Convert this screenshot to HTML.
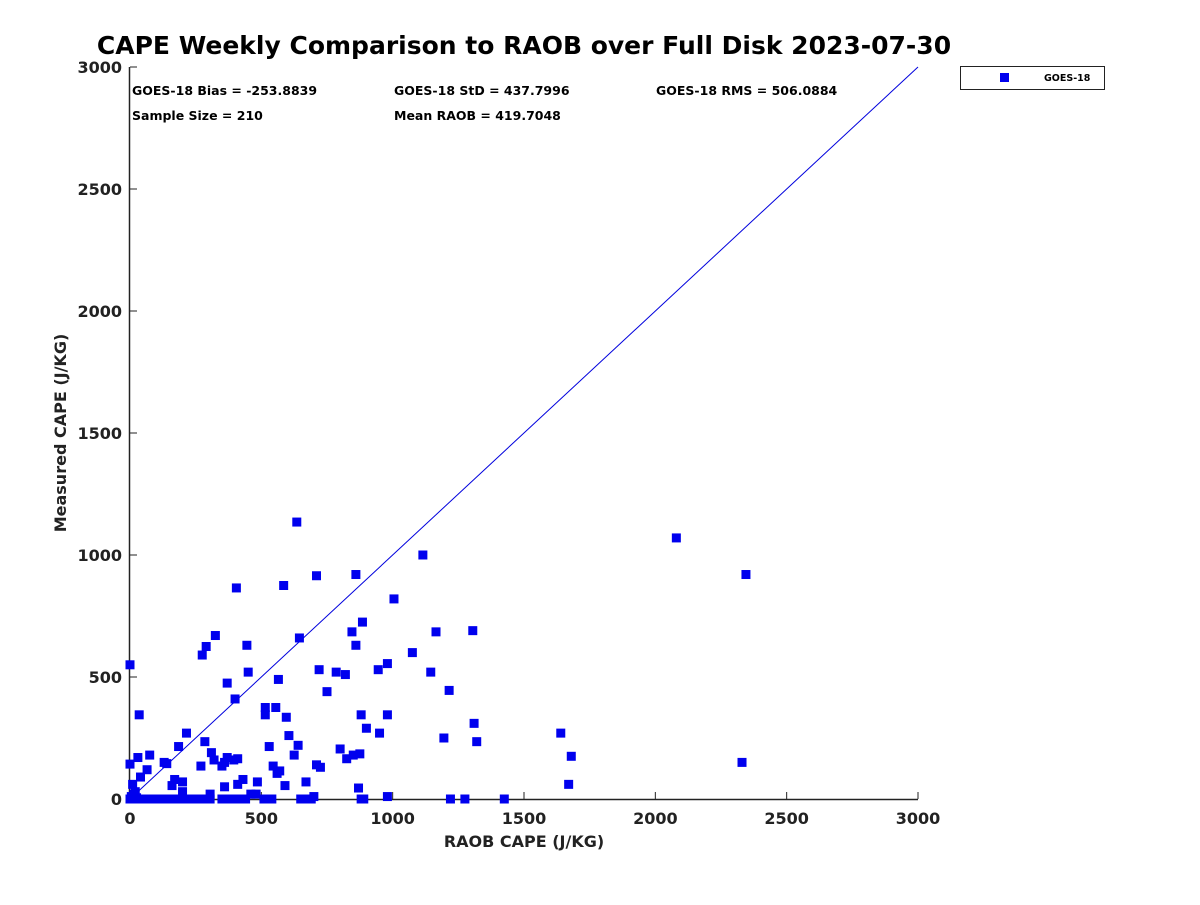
<!DOCTYPE html>
<html><head><meta charset="utf-8"><style>
body{margin:0;background:#fff;font-family:"Liberation Sans",sans-serif}
svg text{font-family:"DejaVu Sans","Liberation Sans",sans-serif;font-weight:bold;fill:#222}
</style></head><body>
<svg id="chart" width="1200" height="900" xmlns="http://www.w3.org/2000/svg">
<rect width="1200" height="900" fill="#fff"/>
<text x="524" y="54" text-anchor="middle" font-size="25" style="fill:#000">CAPE Weekly Comparison to RAOB over Full Disk 2023-07-30</text>
<g id="stats" font-size="12.5">
<text x="132" y="95" style="fill:#000">GOES-18 Bias = -253.8839</text>
<text x="394" y="95" style="fill:#000">GOES-18 StD = 437.7996</text>
<text x="656" y="95" style="fill:#000">GOES-18 RMS = 506.0884</text>
<text x="132" y="120" style="fill:#000">Sample Size = 210</text>
<text x="394" y="120" style="fill:#000">Mean RAOB = 419.7048</text>
</g>
<g>
<rect x="960.5" y="66.5" width="144" height="23" fill="#fff" stroke="#222" stroke-width="1"/>
<rect x="1000" y="73" width="9" height="9" fill="#0000ee"/>
<text x="1044" y="81" font-size="9.5" style="fill:#000">GOES-18</text>
</g>
<g id="axes"></g>
<g id="marks"></g>
<text x="524" y="847" text-anchor="middle" font-size="16">RAOB CAPE (J/KG)</text>
<text transform="translate(66,433) rotate(-90)" text-anchor="middle" font-size="16">Measured CAPE (J/KG)</text>
</svg>
<script>
const xTicks=[0,500,1000,1500,2000,2500,3000];
const yTicks=[0,500,1000,1500,2000,2500,3000];
const raobX=[0,0,10,20,30,35,40,65,75,130,140,160,170,185,200,200,215,270,275,285,290,305,310,320,325,350,360,360,370,370,395,400,405,410,410,430,445,450,460,480,485,515,515,530,545,555,560,565,570,585,590,595,605,625,635,640,645,670,700,710,710,720,725,750,785,800,820,825,845,850,860,860,870,875,880,885,900,945,950,980,980,980,1005,1075,1115,1145,1165,1195,1215,1305,1310,1320,1640,1670,1680,2080,2330,2345,
0,5,10,15,20,25,30,40,50,60,70,80,90,100,110,120,130,140,150,160,170,180,190,200,210,220,230,240,250,260,270,290,305,350,360,390,410,425,440,510,540,650,670,690,880,890,1220,1275,1425];
const goesY=[550,143,60,30,170,345,90,120,180,150,145,55,80,215,70,30,270,135,590,235,625,20,190,160,670,135,150,50,475,170,160,410,865,165,60,80,630,520,20,20,70,345,375,215,135,375,105,490,115,875,55,335,260,180,1135,220,660,70,10,915,140,530,130,440,520,205,510,165,685,180,630,920,45,185,345,725,290,530,270,555,345,10,820,600,1000,520,685,250,445,690,310,235,270,60,175,1070,150,920,
0,10,0,20,0,5,0,0,0,0,0,0,0,0,0,0,0,0,0,0,0,0,0,0,0,0,0,0,0,0,0,0,0,0,0,0,0,0,0,0,0,0,0,0,0,0,0,0,0];
const X0=130,X1=918,Y0=799,Y1=67;
const sx=v=>X0+(v-0)/3000*(X1-X0);
const sy=v=>Y0-(v-0)/3000*(Y0-Y1);
const NS="http://www.w3.org/2000/svg";
function mk(t,a){const e=document.createElementNS(NS,t);for(const k in a)e.setAttribute(k,a[k]);return e;}
const axes=document.getElementById('axes'),marks=document.getElementById('marks');
const xl=mk('line',{x1:X0,y1:Y0+0.5,x2:X1,y2:Y0+0.5,stroke:'#222','stroke-width':1.5});


axes.appendChild(xl);
const yl=mk('line',{x1:X0-0.5,y1:Y0,x2:X0-0.5,y2:Y1,stroke:'#222','stroke-width':1.5});


axes.appendChild(yl);
xTicks.forEach(t=>{
 const l=mk('line',{x1:sx(t),y1:Y0,x2:sx(t),y2:Y0-7,stroke:'#222','stroke-width':1});
 
 
 axes.appendChild(l);
 const tx=mk('text',{x:sx(t),y:Y0+25,'text-anchor':'middle','font-size':16});
 
 
 tx.textContent=t;axes.appendChild(tx);
});
yTicks.forEach(t=>{
 const l=mk('line',{x1:X0,y1:sy(t),x2:X0+7,y2:sy(t),stroke:'#222','stroke-width':1});
 
 
 axes.appendChild(l);
 const tx=mk('text',{x:X0-8,y:sy(t)+6,'text-anchor':'end','font-size':16});
 
 
 tx.textContent=t;axes.appendChild(tx);
});
const d=mk('line',{x1:sx(0),y1:sy(0),x2:sx(3000),y2:sy(3000),stroke:'#0000dd','stroke-width':1});


marks.appendChild(d);
raobX.forEach((x,i)=>{
 const r=mk('rect',{x:sx(x)-4.5,y:sy(goesY[i])-4.5,width:9,height:9,fill:'#0000ee'});
 
 
 marks.appendChild(r);
});
</script>
</body></html>
